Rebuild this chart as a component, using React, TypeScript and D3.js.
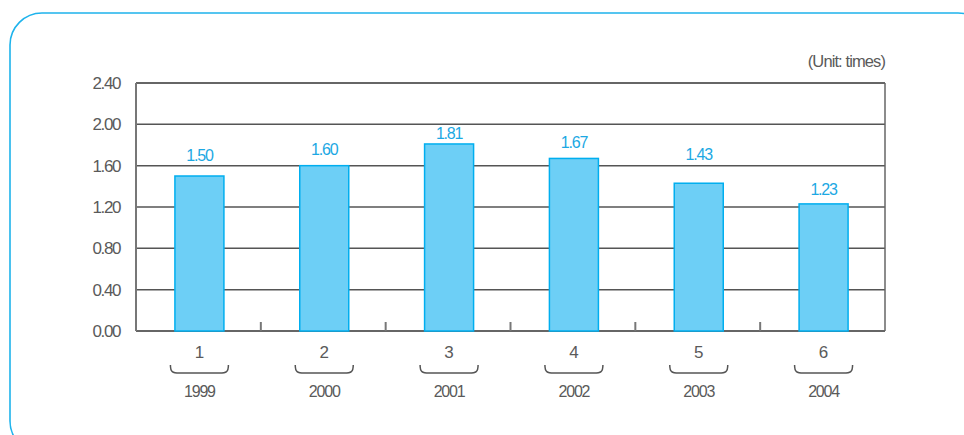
import React from "react";
import * as d3 from "d3";

// Values per period
const periods = ["1", "2", "3", "4", "5", "6"];
const years = ["1999", "2000", "2001", "2002", "2003", "2004"];
const values = [1.5, 1.6, 1.81, 1.67, 1.43, 1.23];
const yTicks = [0, 0.4, 0.8, 1.2, 1.6, 2.0, 2.4];
const unitLabel = "(Unit: times)";

// Per-bar label lift (px above bar top) — a typographic layout detail
const labelLift = [15, 11, 5, 10, 23, 9];

const W = 964;
const H = 435;
const M = { left: 136, right: 885, top: 83, bottom: 331 };

const font = "'Liberation Sans', Arial, sans-serif";
const textGray = "#5a5a5a";

export default function App() {
  const x = d3
    .scaleBand<string>()
    .domain(periods)
    .range([M.left, M.right])
    .paddingInner(0)
    .paddingOuter(0);
  const y = d3.scaleLinear().domain([0, 2.4]).range([M.bottom, M.top]);
  const barW = 49;
  const fmt = d3.format(".2f");

  const brace = (cx: number, top: number) => {
    const hw = 29;
    const h = 8;
    const r = 7;
    return `M${cx - hw},${top} C${cx - hw},${top + r} ${cx - hw + 2},${top + h} ${cx - hw + r + 2},${top + h} L${cx + hw - r - 2},${top + h} C${cx + hw - 2},${top + h} ${cx + hw},${top + r} ${cx + hw},${top}`;
  };

  return (
    <svg
      width={W}
      height={H}
      style={{ position: "absolute", left: 0, top: 0, background: "#fff" }}
      fontFamily={font}
    >
      <rect x={10} y={13} width={980} height={440} rx={32} ry={32} fill="none" stroke="#1eb3ec" strokeWidth={1.6} />

      {/* gridlines */}
      {yTicks.map((t) => (
        <line
          key={"g" + t}
          x1={M.left}
          x2={M.right}
          y1={y(t)}
          y2={y(t)}
          stroke={t === 0 || t === 2.4 ? "#333" : "#555"}
          strokeWidth={1.5}
        />
      ))}
      {/* frame sides */}
      <line x1={M.left} x2={M.left} y1={M.top} y2={M.bottom} stroke="#777" strokeWidth={2} />
      <line x1={M.right} x2={M.right} y1={M.top} y2={M.bottom} stroke="#666" strokeWidth={1.5} />

      {/* category separators */}
      {periods.slice(1).map((p) => (
        <line
          key={"s" + p}
          x1={x(p)!}
          x2={x(p)!}
          y1={M.bottom}
          y2={M.bottom - 9}
          stroke="#777"
          strokeWidth={2}
        />
      ))}

      {/* y tick labels */}
      {yTicks.map((t) => (
        <text
          key={"t" + t}
          x={120}
          y={y(t)}
          dy="0.35em"
          textAnchor="end"
          fontSize={17}
          fill={textGray}
          letterSpacing={-1.4}
        >
          {fmt(t)}
        </text>
      ))}

      {/* bars */}
      {values.map((v, i) => {
        const cx = x(periods[i])! + x.bandwidth() / 2 + 1;
        return (
          <g key={"b" + i}>
            <rect
              x={cx - barW / 2}
              y={y(v)}
              width={barW}
              height={y(0) - y(v)}
              fill="#6dcff6"
              stroke="#00aeef"
              strokeWidth={1.5}
            />
            <text
              x={cx}
              y={y(v) - labelLift[i]}
              textAnchor="middle"
              fontSize={16}
              fill="#1ca8e3"
              letterSpacing={-1.2}
            >
              {fmt(v)}
            </text>
          </g>
        );
      })}

      {/* period numbers, braces and years */}
      {periods.map((p, i) => {
        const cx = x(p)! + x.bandwidth() / 2 + 1;
        return (
          <g key={"c" + p}>
            <text x={cx} y={358} textAnchor="middle" fontSize={17} fill={textGray}>
              {p}
            </text>
            <path d={brace(cx, 365)} fill="none" stroke="#555" strokeWidth={1.5} />
            <text x={cx} y={397} textAnchor="middle" fontSize={16} fill={textGray} letterSpacing={-1.2}>
              {years[i]}
            </text>
          </g>
        );
      })}

      <text x={885} y={67} textAnchor="end" fontSize={16.5} fill={textGray} letterSpacing={-0.9}>
        {unitLabel}
      </text>
    </svg>
  );
}
